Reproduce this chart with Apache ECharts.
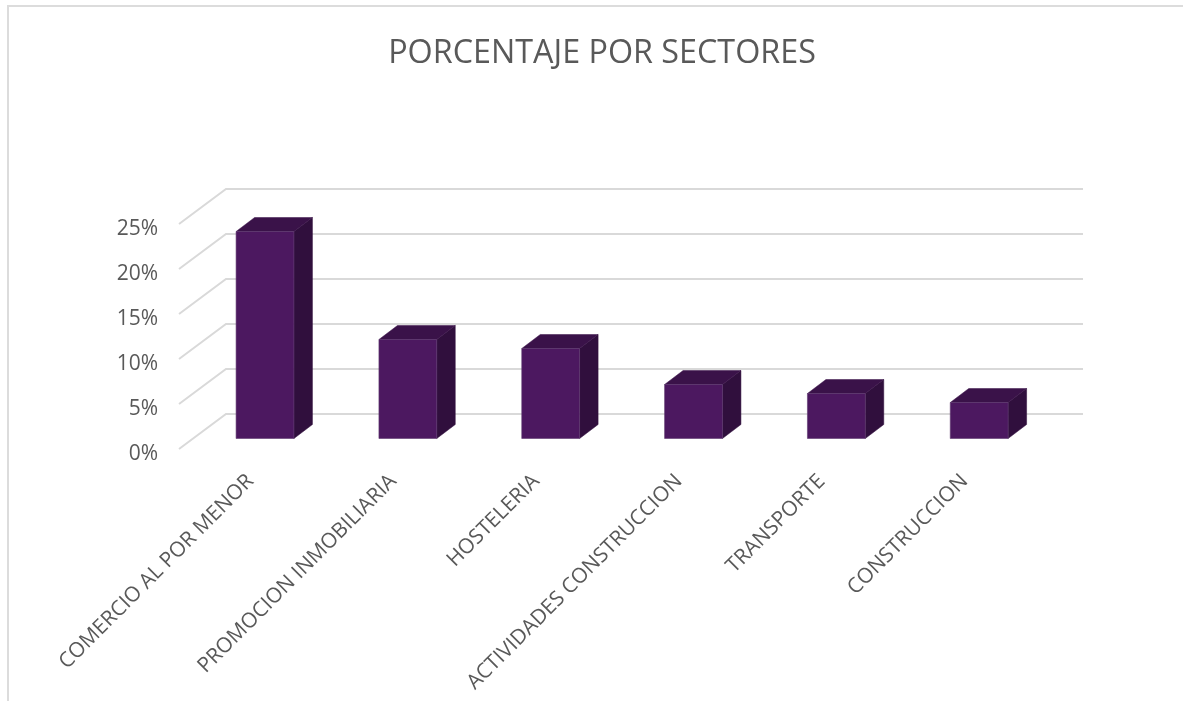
<!DOCTYPE html>
<html><head><meta charset="utf-8">
<style>html,body{margin:0;padding:0;background:#fff}#c{width:1183px;height:703px}</style>
<script src="https://cdn.jsdelivr.net/npm/echarts@6/dist/echarts.min.js"></script>
</head><body><div id="c"></div>
<script>
const categories = ["COMERCIO AL POR MENOR","PROMOCION INMOBILIARIA","HOSTELERIA","ACTIVIDADES CONSTRUCCION","TRANSPORTE","CONSTRUCCION"];
const values = [23, 11, 10, 6, 5, 4];
const yTicks = [0, 5, 10, 15, 20, 25];

const chart = echarts.init(document.getElementById('c'), null, {renderer:'canvas'});
const WALL_DX = 47, WALL_DY = -35;
const BAR_DX = 14.6, BAR_DY = -10.5, DEPTH_DX = 18.5, DEPTH_DY = -14;
const FRONT = '#4c1860', SIDE = '#300f3d', TOP = '#3a1249', EDGE = '#5f3a70';

chart.setOption({
  animation:false,
  title:{text:'PORCENTAJE POR SECTORES',left:597,top:33,textAlign:'center',
    textStyle:{fontFamily:'Open Sans',fontSize:32.3,fontWeight:'normal',color:'#595959'}},
  graphic:[{type:'polyline',silent:true,z:0,
    shape:{points:[[8,701],[8,6],[1183,6]]},
    style:{stroke:'#dcdcdc',lineWidth:2,fill:null}}],
  grid:{left:179,width:857,top:224,height:225},
  xAxis:{type:'category',data:categories,
    axisLine:{show:false},axisTick:{show:false},splitLine:{show:false},
    axisLabel:{interval:0,rotate:45,margin:29,color:'#595959',fontFamily:'Open Sans',fontSize:20.9}},
  yAxis:{type:'value',min:0,max:25,interval:5,
    axisLine:{show:false},axisTick:{show:false},splitLine:{show:false},
    axisLabel:{formatter:'{value}%',margin:21,verticalAlign:'top',lineHeight:10,color:'#595959',fontFamily:'Open Sans',fontSize:21}},
  series:[
    {type:'custom',coordinateSystem:'cartesian2d',z:1,silent:true,data:yTicks.map(v=>[0,v]),
      encode:{x:0,y:1},
      renderItem(params,api){
        const y=api.coord([0,api.value(1)])[1], cs=params.coordSys;
        return {type:'polyline',shape:{points:[[cs.x,y],[cs.x+WALL_DX,y+WALL_DY],[cs.x+cs.width+WALL_DX,y+WALL_DY]]},
          style:{stroke:'#d9d9d9',lineWidth:2,fill:null}};
      }},
    {type:'custom',coordinateSystem:'cartesian2d',z:2,silent:true,
      data:values.map((v,i)=>[i,v]),encode:{x:0,y:1},
      renderItem(params,api){
        const top=api.coord([api.value(0),api.value(1)]), base=api.coord([api.value(0),0]);
        const w=api.size([1,0])[0]*0.405;
        const l=top[0]+BAR_DX-w/2, r=l+w, t=top[1]+BAR_DY, b=base[1]+BAR_DY;
        return {type:'group',children:[
          {type:'polygon',shape:{points:[[r,t],[r+DEPTH_DX,t+DEPTH_DY],[r+DEPTH_DX,b+DEPTH_DY],[r,b]]},style:{fill:SIDE,stroke:SIDE,lineWidth:0.5}},
          {type:'polygon',shape:{points:[[l,t],[l+DEPTH_DX,t+DEPTH_DY],[r+DEPTH_DX,t+DEPTH_DY],[r,t]]},style:{fill:TOP,stroke:TOP,lineWidth:0.5}},
          {type:'rect',shape:{x:l,y:t,width:w,height:b-t},style:{fill:FRONT,stroke:EDGE,lineWidth:0.6}}
        ]};
      }}
  ]
});
</script></body></html>
